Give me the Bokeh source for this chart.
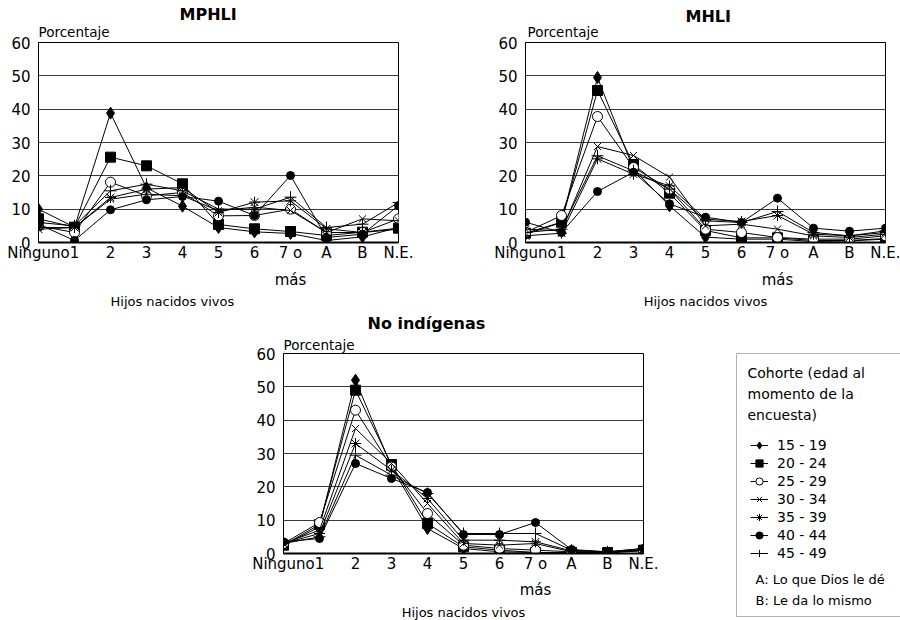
from bokeh.plotting import figure
from bokeh.layouts import column, row
from bokeh.models import (Range1d, FixedTicker, Legend, LegendItem, LinearAxis,
                          Spacer, ColumnDataSource, Title, Label, BoxAnnotation)
from bokeh.embed import file_html
from bokeh.resources import INLINE

# ---------------- data ----------------
categories = ["Ninguno", "1", "2", "3", "4", "5", "6", "7 o", "A", "B", "N.E."]
second_line = {7: "más"}
cohorts = ["15 - 19", "20 - 24", "25 - 29", "30 - 34", "35 - 39", "40 - 44", "45 - 49"]

# MPHLI
mphli_15_19 = [10.0, 4.6, 38.8, 16.4, 10.9, 4.5, 3.2, 2.7, 0.6, 1.7, 4.5]
mphli_20_24 = [7.1, 4.6, 25.6, 23.0, 17.6, 5.4, 4.1, 3.3, 2.1, 3.1, 4.3]
mphli_25_29 = [5.0, 3.0, 18.1, 14.0, 15.0, 8.0, 8.1, 10.0, 3.0, 3.0, 7.1]
mphli_30_34 = [4.5, 4.5, 13.0, 14.5, 14.0, 9.5, 10.6, 9.6, 3.0, 7.1, 6.5]
mphli_35_39 = [4.0, 4.5, 13.5, 16.0, 16.5, 9.0, 12.1, 12.5, 4.1, 3.0, 4.0]
mphli_40_44 = [5.5, 0.6, 9.8, 12.8, 13.8, 12.4, 8.1, 20.1, 1.5, 2.5, 11.1]
mphli_45_49 = [6.0, 5.0, 15.5, 17.5, 15.5, 10.0, 10.0, 13.6, 4.5, 5.5, 12.0]

# MHLI
mhli_15_19 = [2.5, 6.0, 49.5, 22.0, 11.0, 1.6, 1.0, 1.0, 0.3, 0.5, 1.0]
mhli_20_24 = [2.8, 6.1, 45.6, 23.4, 14.8, 3.6, 1.4, 1.4, 0.6, 0.6, 1.2]
mhli_25_29 = [3.0, 8.1, 37.8, 22.5, 16.0, 4.0, 3.0, 1.5, 1.0, 1.0, 2.0]
mhli_30_34 = [4.0, 3.5, 28.8, 26.1, 19.6, 5.0, 5.5, 4.0, 2.0, 1.5, 2.5]
mhli_35_39 = [2.0, 2.8, 25.1, 20.5, 17.0, 7.0, 6.3, 8.1, 2.5, 2.0, 3.0]
mhli_40_44 = [6.1, 3.0, 15.3, 21.1, 11.6, 7.6, 6.0, 13.3, 4.3, 3.4, 4.3]
mhli_45_49 = [3.0, 4.0, 26.0, 21.5, 16.0, 6.5, 6.0, 9.3, 3.0, 2.0, 3.5]

# No indígenas
noind_15_19 = [2.5, 8.0, 52.0, 26.0, 7.5, 1.5, 0.5, 0.3, 0.2, 0.2, 0.8]
noind_20_24 = [2.5, 8.7, 49.0, 26.7, 9.0, 2.0, 1.0, 0.3, 0.3, 0.3, 1.0]
noind_25_29 = [3.0, 9.3, 43.0, 26.0, 12.0, 2.5, 1.5, 1.0, 0.5, 0.3, 1.0]
noind_30_34 = [3.0, 7.0, 37.5, 27.0, 15.0, 3.0, 2.5, 3.0, 0.5, 0.4, 1.0]
noind_35_39 = [3.0, 6.0, 33.0, 25.0, 16.5, 4.0, 4.0, 3.5, 0.8, 0.5, 1.2]
noind_40_44 = [3.5, 4.5, 27.0, 22.5, 18.3, 5.7, 5.7, 9.3, 1.2, 0.5, 1.5]
noind_45_49 = [3.0, 5.0, 29.5, 23.5, 18.0, 6.0, 6.0, 6.0, 1.0, 0.5, 1.5]

notes = ["A: Lo que Dios le dé", "B: Le da lo mismo"]
legend_title = ["Cohorte (edad al", "momento de la", "encuesta)"]

# ---------------- styles ----------------
FONT = "DejaVu Sans"
markers = ["diamond", "square", "circle", "x", "asterisk", "circle", "cross"]
fills = ["black", "black", "white", None, None, "black", None]
sizes = [12, 10, 10, 10, 11, 8, 12]


def make_chart(series, title, title_off, title_standoff, por_off, por_standoff,
               width, left, right, top, bottom, mas_standoff,
               xlabel_align, xlabel_off, xlabel_standoff):
    p = figure(width=width, height=310, x_range=Range1d(0, len(categories) - 1),
               y_range=Range1d(0, 60), output_backend="svg", toolbar_location=None,
               title=None, min_border_left=left, min_border_right=right,
               min_border_top=top, min_border_bottom=bottom)
    p.background_fill_color = "white"
    p.border_fill_color = "white"
    p.outline_line_color = "black"
    p.outline_line_width = 1

    xs = list(range(len(categories)))
    for vals, m, f, s in zip(series, markers, fills, sizes):
        src = ColumnDataSource(dict(x=xs, y=vals))
        p.line("x", "y", source=src, line_color="black", line_width=1)
        p.scatter("x", "y", source=src, marker=m, size=s,
                  fill_color=f, line_color="black", line_width=1)

    p.xaxis.ticker = FixedTicker(ticks=xs)
    p.xaxis.major_label_overrides = {i: c for i, c in enumerate(categories)}
    p.yaxis.ticker = FixedTicker(ticks=[0, 10, 20, 30, 40, 50, 60])
    p.xgrid.visible = False
    p.ygrid.ticker = FixedTicker(ticks=[10, 20, 30, 40, 50])
    p.ygrid.grid_line_color = "#3a3a3a"
    p.ygrid.grid_line_width = 1

    ax2 = LinearAxis(ticker=FixedTicker(ticks=list(second_line.keys())),
                     major_label_overrides=dict(second_line))
    p.add_layout(ax2, "below")

    for ax in (p.xaxis[0], p.yaxis[0], ax2):
        ax.major_tick_line_color = None
        ax.minor_tick_line_color = None
        ax.major_tick_out = 0
        ax.major_tick_in = 0
        ax.minor_tick_out = 0
        ax.minor_tick_in = 0
        ax.major_label_text_font = FONT
        ax.major_label_text_font_size = "15px"
        ax.major_label_text_color = "black"
    p.xaxis[0].axis_line_color = "black"
    p.xaxis[0].axis_line_width = 2
    p.yaxis[0].axis_line_color = "black"
    p.xaxis[0].major_label_standoff = 1
    p.yaxis[0].major_label_standoff = 8
    ax2.axis_line_color = None
    ax2.major_label_standoff = mas_standoff

    p.add_layout(Title(text="Hijos nacidos vivos", align=xlabel_align,
                       offset=xlabel_off, standoff=xlabel_standoff,
                       text_font=FONT, text_font_size="13px",
                       text_font_style="normal", text_color="black"), "below")
    p.add_layout(Title(text="Porcentaje", align="left", offset=por_off,
                       standoff=por_standoff, text_font=FONT,
                       text_font_size="13.5px", text_font_style="normal",
                       text_color="black"), "above")
    p.add_layout(Title(text=title, align="left", offset=title_off,
                       standoff=title_standoff, text_font=FONT,
                       text_font_size="16px", text_font_style="bold",
                       text_color="black"), "above")
    return p


p1 = make_chart([mphli_15_19, mphli_20_24, mphli_25_29, mphli_30_34,
                 mphli_35_39, mphli_40_44, mphli_45_49],
                "MPHLI", 141, -10, 0, 6, 450, 38, 52, 42, 68, 6, "left", 72, 0)
p2 = make_chart([mhli_15_19, mhli_20_24, mhli_25_29, mhli_30_34,
                 mhli_35_39, mhli_40_44, mhli_45_49],
                "MHLI", 160, -14, 2, 6, 450, 75, 15, 42, 68, 6, "center", 0, 0)
p3 = make_chart([noind_15_19, noind_20_24, noind_25_29, noind_30_34,
                 noind_35_39, noind_40_44, noind_45_49],
                "No indígenas", 84, 1, 0, 2, 488, 38, 90, 43, 67, 5, "center", 0, 2)

# ---------------- legend panel ----------------
pl = figure(width=167, height=310, x_range=Range1d(0, 167), y_range=Range1d(310, 0),
            output_backend="svg", toolbar_location=None, title=None,
            x_axis_type=None, y_axis_type=None, min_border=0)
pl.outline_line_color = None
pl.background_fill_color = "white"
pl.border_fill_color = "white"

pl.add_layout(BoxAnnotation(left=3, right=400, top=43, bottom=306,
                            fill_color=None, fill_alpha=0,
                            line_color="black", line_width=1))
for i, t in enumerate(legend_title):
    pl.add_layout(Label(x=14, y=62 + 21 * i, text=t, text_align="left",
                        text_baseline="middle", text_font=FONT,
                        text_font_size="14px", text_color="black"))
for i, t in enumerate(notes):
    pl.add_layout(Label(x=22, y=269 + 21 * i, text=t, text_align="left",
                        text_baseline="middle", text_font=FONT,
                        text_font_size="13px", text_color="black"))

# legend keys: hidden copies of the bottom chart's series (never drawn)
items = []
xs_all = list(range(len(categories)))
for c, vals, m, f, s in zip(cohorts,
                            [noind_15_19, noind_20_24, noind_25_29, noind_30_34,
                             noind_35_39, noind_40_44, noind_45_49],
                            markers, fills, sizes):
    src = ColumnDataSource(dict(x=xs_all, y=vals))
    rl = pl.line("x", "y", source=src, line_color="black", line_width=1, visible=False)
    rs = pl.scatter("x", "y", source=src, marker=m, size=s, fill_color=f,
                    line_color="black", line_width=1, visible=False)
    items.append(LegendItem(label=c, renderers=[rl, rs]))

leg = Legend(items=items, location=(17, 58), padding=0, margin=0, spacing=0,
             label_height=18, glyph_height=18, glyph_width=18, label_standoff=9,
             border_line_color=None, background_fill_alpha=0,
             inactive_fill_alpha=0,
             label_text_font=FONT, label_text_font_size="14px",
             label_text_color="black")
pl.add_layout(leg)

layout = column(row(p1, p2), row(Spacer(width=245, height=310), p3, column(pl)))

open("out.html", "w").write(file_html(layout, INLINE))
